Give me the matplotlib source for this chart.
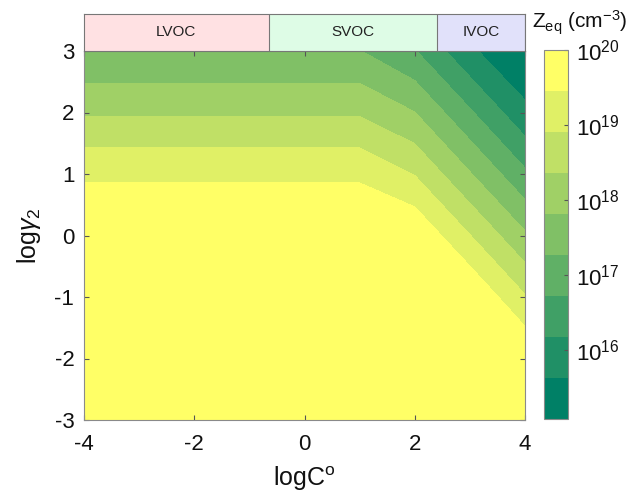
import numpy as np
import matplotlib
matplotlib.use("Agg")
import matplotlib.pyplot as plt
from matplotlib.colors import ListedColormap, BoundaryNorm

plt.rcParams['font.family'] = ['Liberation Sans', 'DejaVu Sans']
plt.rcParams['mathtext.fontset'] = 'custom'
plt.rcParams['mathtext.rm'] = 'Liberation Sans'
plt.rcParams['mathtext.it'] = 'Liberation Sans:italic'
plt.rcParams['mathtext.bf'] = 'Liberation Sans:bold'
plt.rcParams['axes.unicode_minus'] = False

# ---- data ----
logC = [-4, -3, -2, -1, 0, 1, 2, 3, 4]
log_gamma2 = [-3, -2, -1, 0, 1, 2, 3]
# log10(Z_eq) ; rows follow log_gamma2, columns follow logC
logZ_eq = [
    [20.00, 20.00, 20.00, 20.00, 20.00, 20.00, 20.00, 20.00, 20.00],
    [20.00, 20.00, 20.00, 20.00, 20.00, 20.00, 20.00, 20.00, 20.00],
    [20.00, 20.00, 20.00, 20.00, 20.00, 20.00, 20.00, 19.99, 18.95],
    [20.00, 20.00, 20.00, 20.00, 20.00, 20.00, 19.95, 18.92, 17.89],
    [19.36, 19.36, 19.36, 19.36, 19.36, 19.36, 18.88, 17.85, 16.82],
    [18.29, 18.29, 18.29, 18.29, 18.29, 18.29, 17.82, 16.79, 15.76],
    [17.28, 17.28, 17.28, 17.28, 17.28, 17.28, 16.75, 15.72, 15.08],
]
zmin, zmax = 15.075, 20.0
n_bands = 9
cbar_ticks = [16, 17, 18, 19, 20]

class_names = ['LVOC', 'SVOC', 'IVOC']
class_edges = [-4, -0.65, 2.4, 4]
class_colors = ['#FFE1E3', '#DEFCE6', '#E1E1FA']

# ---- figure ----
W, H = 634, 499
fig = plt.figure(figsize=(W / 100, H / 100), dpi=100)

def frac(l, t, r, b):
    return [l / W, 1 - b / H, (r - l) / W, (b - t) / H]

ax = fig.add_axes(frac(84, 51, 525, 420))
levels = np.linspace(zmin, zmax, n_bands + 1)
colors = plt.get_cmap('summer')(np.linspace(0, 1, n_bands))
cmap = ListedColormap(colors)
norm = BoundaryNorm(levels, n_bands)
X, Y = np.meshgrid(logC, log_gamma2)
cs = ax.contourf(X, Y, np.array(logZ_eq), levels=levels, cmap=cmap, norm=norm)

ax.set_xlim(-4, 4)
ax.set_ylim(-3, 3)
ax.set_xticks([-4, -2, 0, 2, 4])
ax.set_yticks([-3, -2, -1, 0, 1, 2, 3])
ax.tick_params(direction='in', top=True, right=True, length=3.5, width=0.8,
               color='#555555', labelsize=16, labelcolor='#111111')
ax.tick_params(axis='x', pad=10)
ax.tick_params(axis='y', pad=7)
for s in ax.spines.values():
    s.set_color('#8a8a8a')
    s.set_linewidth(0.8)
ax.set_xlabel(r'logC$^{\rm o}$', fontsize=18, color='#111111', labelpad=7)
ax.set_ylabel(r'log$\gamma_2$', fontsize=18, color='#111111', labelpad=8)

# volatility class boxes
bx = fig.add_axes(frac(84, 14, 525, 51))
bx.set_xlim(-4, 4)
bx.set_ylim(0, 1)
for name, x0, x1, c in zip(class_names, class_edges[:-1], class_edges[1:], class_colors):
    bx.axvspan(x0, x1, color=c, lw=0)
    bx.axvline(x1, color='#777777', lw=0.8)
    bx.text((x0 + x1) / 2, 0.5, name, ha='center', va='center', fontsize=11, color='#222222')
bx.set_xticks([])
bx.set_yticks([])
for s in bx.spines.values():
    s.set_color('#777777')
    s.set_linewidth(0.8)

# colorbar
cax = fig.add_axes(frac(544, 50, 568, 419))
cb = fig.colorbar(cs, cax=cax)
cb.minorticks_off()
cb.set_ticks(cbar_ticks)
cb.set_ticklabels([r'$10^{%d}$' % t for t in cbar_ticks])
cax.tick_params(direction='in', length=3, labelsize=16, color='#555555', labelcolor='#111111', pad=6)
cb.outline.set_edgecolor('#8a8a8a')
cb.outline.set_linewidth(0.8)
fig.text(580 / W, 1 - 23 / H, r'Z$_{\rm eq}$ (cm$^{-3}$)', ha='center', va='center',
         fontsize=15, color='#111111')

fig.savefig('out.png', dpi=100)
